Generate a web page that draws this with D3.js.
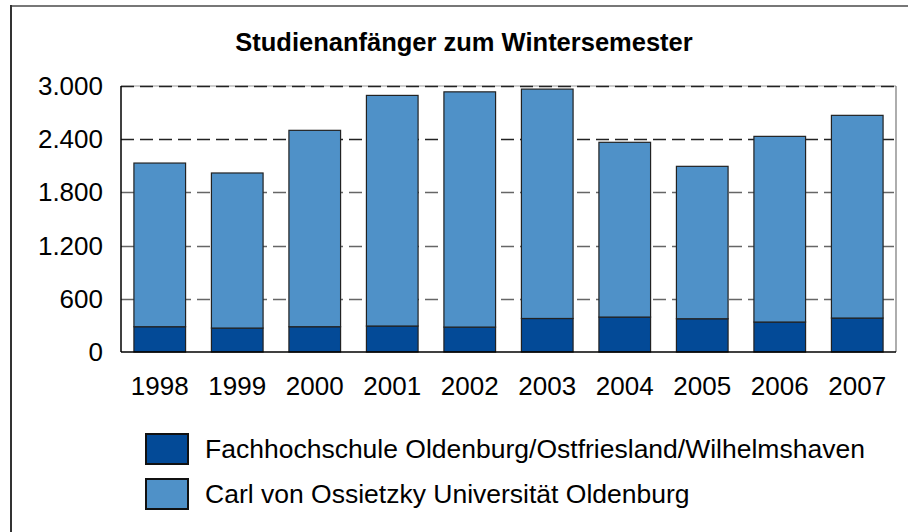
<!DOCTYPE html>
<html>
<head>
<meta charset="utf-8">
<script src="https://cdn.jsdelivr.net/npm/d3@7/dist/d3.min.js"></script>
<style>
  body { margin: 0; background: #fff; }
  text { font-family: "Liberation Sans", Arial, sans-serif; fill: #000; }
</style>
</head>
<body>
<svg id="chart" width="908" height="532"></svg>
<script>
const years = ['1998', '1999', '2000', '2001', '2002', '2003', '2004', '2005', '2006', '2007'];
const fachhochschule = [285, 270, 285, 293, 281, 378, 394, 375, 338, 383];
const universitaet = [1846, 1749, 2215, 2601, 2653, 2587, 1971, 1719, 2094, 2286];
const yTicks = [0, 600, 1200, 1800, 2400, 3000];
const seriesNames = ['Fachhochschule Oldenburg/Ostfriesland/Wilhelmshaven', 'Carl von Ossietzky Universität Oldenburg'];
const seriesColors = ['#034a97', '#4f91c8'];

const svg = d3.select('#chart');
const plotLeft = 121, plotRight = 896, plotTop = 86, plotBottom = 352;

const x = d3.scaleBand().domain(years).range([plotLeft, plotRight]).paddingInner(1 / 3).paddingOuter(1 / 6);
const y = d3.scaleLinear().domain([0, 3000]).range([plotBottom, plotTop]);

// outer frame (only top and left edges show)
svg.append('line').attr('x1', 10).attr('x2', 908).attr('y1', 6).attr('y2', 6)
    .attr('stroke', '#777').attr('stroke-width', 2);
svg.append('line').attr('x1', 11).attr('x2', 11).attr('y1', 5).attr('y2', 532)
    .attr('stroke', '#333').attr('stroke-width', 2);

svg.append('text')
    .attr('x', 464).attr('y', 51)
    .attr('text-anchor', 'middle')
    .style('font-size', '25.5px').style('font-weight', 'bold')
    .text('Studienanfänger zum Wintersemester');

// plot frame top/right
svg.append('line').attr('x1', plotLeft).attr('x2', plotRight).attr('y1', plotTop).attr('y2', plotTop)
    .attr('stroke', '#bbb').attr('stroke-width', 1.5);
svg.append('line').attr('x1', plotRight).attr('x2', plotRight).attr('y1', plotTop).attr('y2', plotBottom)
    .attr('stroke', '#777').attr('stroke-width', 1.2);

// gridlines
svg.append('g')
    .selectAll('line')
    .data(yTicks.filter(t => t > 0))
    .enter()
    .append('line')
    .attr('x1', plotLeft).attr('x2', plotRight)
    .attr('y1', d => Math.round(y(d)) + 0.5).attr('y2', d => Math.round(y(d)) + 0.5)
    .attr('stroke', d => d >= 2400 ? '#222' : '#666')
    .attr('stroke-width', 1.6)
    .attr('stroke-dasharray', '13,6');

// y axis labels
svg.append('g')
    .selectAll('text')
    .data(yTicks)
    .enter()
    .append('text')
    .attr('x', 103)
    .attr('y', d => y(d) + 9)
    .attr('text-anchor', 'end')
    .style('font-size', '26px')
    .text(d => d3.format(',')(d).replace(/,/g, '.'));

// stacked bars
const rows = years.map((yr, i) => ({ year: yr, fh: fachhochschule[i], uni: universitaet[i] }));
const stack = d3.stack().keys(['fh', 'uni'])(rows);

svg.append('g')
    .selectAll('g')
    .data(stack)
    .enter()
    .append('g')
    .attr('fill', (d, i) => seriesColors[i])
    .selectAll('rect')
    .data(d => d)
    .enter()
    .append('rect')
    .attr('x', d => x(d.data.year))
    .attr('y', d => y(d[1]))
    .attr('width', x.bandwidth())
    .attr('height', d => y(d[0]) - y(d[1]))
    .attr('stroke', '#222')
    .attr('stroke-width', 1.2);

// axes lines
svg.append('line').attr('x1', plotLeft).attr('x2', plotLeft).attr('y1', plotTop).attr('y2', plotBottom)
    .attr('stroke', '#000').attr('stroke-width', 1.5);
svg.append('line').attr('x1', plotLeft).attr('x2', plotRight).attr('y1', plotBottom).attr('y2', plotBottom)
    .attr('stroke', '#000').attr('stroke-width', 1.5);

// x labels
svg.append('g')
    .selectAll('text')
    .data(years)
    .enter()
    .append('text')
    .attr('x', d => x(d) + x.bandwidth() / 2)
    .attr('y', 395)
    .attr('text-anchor', 'middle')
    .style('font-size', '26px')
    .text(d => d);

// legend
const legend = svg.append('g')
    .selectAll('g')
    .data(seriesNames)
    .enter()
    .append('g')
    .attr('transform', (d, i) => `translate(146,${434 + i * 45})`);

legend.append('rect')
    .attr('width', 42).attr('height', 30)
    .attr('fill', (d, i) => seriesColors[i])
    .attr('stroke', '#111').attr('stroke-width', 2);

legend.append('text')
    .attr('x', 59).attr('y', 24)
    .style('font-size', '26.5px')
    .text(d => d);
</script>
</body>
</html>
